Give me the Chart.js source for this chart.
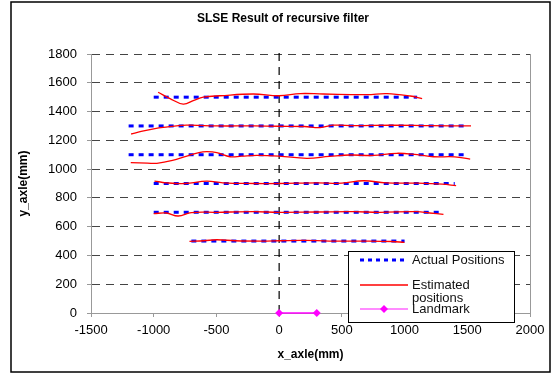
<!DOCTYPE html>
<html>
<head>
<meta charset="utf-8">
<script src="https://cdn.jsdelivr.net/npm/chart.js@4.4.1/dist/chart.umd.min.js"></script>
<style>
  html, body { margin: 0; padding: 0; background: #fff; }
  #chart { display: block; }
</style>
</head>
<body>
<canvas id="chart" width="552" height="375"></canvas>
<script>
// axes
const xMin = -1500, xMax = 2000, xStep = 500
const yMin = 0, yMax = 1800, yStep = 200

// actual positions: one dotted row per level
const rowLevels = [500, 700, 900, 1100, 1300, 1500]
const rowStarts = [-700, -1000, -1000, -1200, -1200, -1000]
const rowEnds = [1000, 1300, 1400, 1500, 1500, 1100]

// estimated positions
const est500X = [-715, -600, -497, -350, -100, 0, 200, 400, 700, 900, 999]
const est500Y = [498, 502, 509, 502, 500, 502, 505, 500, 500, 497, 491]
const est700X = [-1000, -900, -805, -700, -500, -207, 0, 300, 590, 800, 1098, 1200, 1310]
const est700Y = [690, 695, 674, 698, 700, 704, 700, 702, 704, 700, 704, 695, 686]
const est900X = [-994, -900, -750, -577, -450, -200, 0, 300, 500, 672, 850, 1100, 1300, 1411]
const est900Y = [917, 905, 900, 917, 905, 900, 900, 905, 902, 919, 905, 902, 895, 885]
const est1100X = [-1183, -1050, -975, -850, -736, -640, -577, -497, -391, -300, -178, 0, 221, 400, 566, 750, 939, 1100, 1230, 1400, 1523]
const est1100Y = [1045, 1042, 1040, 1060, 1091, 1115, 1121, 1115, 1086, 1090, 1095, 1090, 1075, 1088, 1098, 1095, 1110, 1100, 1086, 1085, 1070]
const est1300X = [-1180, -1100, -1000, -925, -740, -500, -200, 0, 200, 327, 430, 600, 900, 1200, 1530]
const est1300Y = [1244, 1262, 1280, 1290, 1305, 1300, 1300, 1298, 1296, 1288, 1305, 1302, 1305, 1302, 1300]
const est1500X = [-965, -870, -765, -680, -605, -470, -207, 0, 170, 350, 700, 860, 1045, 1140]
const est1500Y = [1534, 1490, 1452, 1478, 1500, 1510, 1522, 1510, 1525, 1522, 1518, 1525, 1508, 1490]

const landmarkX = [0, 300]
const landmarkY = [0, 0]

const centerX = [0, 0]
const centerY = [0, 1830]

const zip = (xs, ys) => xs.map((x, i) => ({ x: x, y: ys[i] }))

const estRows = [
  zip(est500X, est500Y),
  zip(est700X, est700Y),
  zip(est900X, est900Y),
  zip(est1100X, est1100Y),
  zip(est1300X, est1300Y),
  zip(est1500X, est1500Y),
]

const datasets = []
// landmark on top
datasets.push({
  label: 'Landmark',
  data: zip(landmarkX, landmarkY),
  borderColor: '#ff00ff',
  backgroundColor: '#ff00ff',
  borderWidth: 1.5,
  pointStyle: 'rectRot',
  pointRadius: 4,
  pointBorderWidth: 0,
  clip: false,
})
estRows.forEach((row) => {
  datasets.push({
    label: 'Estimated positions',
    data: row,
    borderColor: '#ff0000',
    borderWidth: 1.3,
    pointRadius: 0,
    tension: 0.4,
  })
})
rowLevels.forEach((lvl, i) => {
  datasets.push({
    label: 'Actual Positions',
    data: [{ x: rowStarts[i], y: lvl }, { x: rowEnds[i], y: lvl }],
    borderColor: '#0000ff',
    borderWidth: 3,
    borderDash: [5, 5],
    pointRadius: 0,
  })
})
datasets.push({
  label: 'center',
  data: zip(centerX, centerY),
  borderColor: '#000',
  borderWidth: 1.2,
  borderDash: [8, 6],
  pointRadius: 0,
  clip: false,
})

const FONT = '"Liberation Sans", Arial, sans-serif'

const frame = {
  id: 'frame',
  beforeDraw(chart) {
    const c = chart.ctx
    c.save()
    c.fillStyle = '#fff'
    c.fillRect(0, 0, chart.width, chart.height)
    c.strokeStyle = '#000'
    c.lineWidth = 1.5
    c.strokeRect(11, 2, 539, 370)
    c.restore()
  },
  afterDraw(chart) {
    const c = chart.ctx
    const a = chart.chartArea
    c.save()
    // right edge of the plot
    c.strokeStyle = '#999'
    c.lineWidth = 1
    c.beginPath()
    c.moveTo(a.right + 0.5, a.top)
    c.lineTo(a.right + 0.5, a.bottom)
    c.stroke()

    // titles
    c.fillStyle = '#000'
    c.textAlign = 'center'
    c.textBaseline = 'middle'
    c.font = 'bold 12px ' + FONT
    c.fillText('SLSE Result of recursive filter', 283, 19)
    c.fillText('x_axle(mm)', (a.left + a.right) / 2, 355)
    c.save()
    c.translate(24, (a.top + a.bottom) / 2)
    c.rotate(-Math.PI / 2)
    c.fillText('y_axle(mm)', 0, 0)
    c.restore()

    // legend
    const lx = 348, ly = 251, lw = 166, lh = 71
    c.fillStyle = '#fff'
    c.fillRect(lx, ly, lw, lh)
    c.strokeStyle = '#000'
    c.lineWidth = 1
    c.strokeRect(lx + 0.5, ly + 0.5, lw, lh)

    const sx1 = 360, sx2 = 408, tx = 412
    c.lineWidth = 3
    c.strokeStyle = '#0000ff'
    c.setLineDash([4, 4])
    c.beginPath(); c.moveTo(sx1, 260); c.lineTo(sx2, 260); c.stroke()
    c.setLineDash([])
    c.lineWidth = 1.3
    c.strokeStyle = '#ff0000'
    c.beginPath(); c.moveTo(sx1, 285); c.lineTo(sx2, 285); c.stroke()
    c.lineWidth = 1.5
    c.strokeStyle = '#ff66ff'
    c.beginPath(); c.moveTo(sx1, 309); c.lineTo(sx2, 309); c.stroke()
    c.fillStyle = '#ff00ff'
    c.beginPath()
    c.moveTo(384, 305); c.lineTo(388, 309); c.lineTo(384, 313); c.lineTo(380, 309)
    c.closePath(); c.fill()

    c.fillStyle = '#111'
    c.textAlign = 'left'
    c.font = '13px ' + FONT
    c.fillText('Actual Positions', tx, 260)
    c.fillText('Estimated', tx, 285)
    c.fillText('positions', tx, 298)
    c.fillText('Landmark', tx, 309)
    c.restore()
  },
}

new Chart(document.getElementById('chart'), {
  type: 'line',
  data: { datasets: datasets },
  plugins: [frame],
  options: {
    responsive: false,
    animation: false,
    devicePixelRatio: 1,
    layout: { padding: { top: 54, right: 22, left: 0, bottom: 0 } },
    plugins: {
      legend: { display: false },
      tooltip: { enabled: false },
      title: { display: false },
    },
    scales: {
      x: {
        type: 'linear',
        min: xMin,
        max: xMax,
        ticks: {
          stepSize: xStep,
          color: '#000',
          font: { family: FONT, size: 13 },
          padding: 6,
          maxRotation: 0,
          callback: (v) => String(v),
        },
        grid: {
          drawOnChartArea: false,
          drawTicks: true,
          tickLength: 4,
          tickColor: '#999',
        },
        border: { color: '#999', width: 1 },
        afterFit: (s) => { s.height = 62 },
      },
      y: {
        min: yMin,
        max: yMax,
        ticks: {
          stepSize: yStep,
          color: '#000',
          font: { family: FONT, size: 13 },
          padding: 10,
          callback: (v) => String(v),
        },
        grid: {
          color: (ctx) => (ctx.tick && ctx.tick.value === 0 ? 'rgba(0,0,0,0)' : '#444'),
          tickColor: '#999',
          tickLength: 4,
          lineWidth: 1,
        },
        border: { color: '#999', width: 1, dash: [8, 6] },
        afterFit: (s) => { s.width = 91 },
      },
    },
  },
})
</script>
</body>
</html>
